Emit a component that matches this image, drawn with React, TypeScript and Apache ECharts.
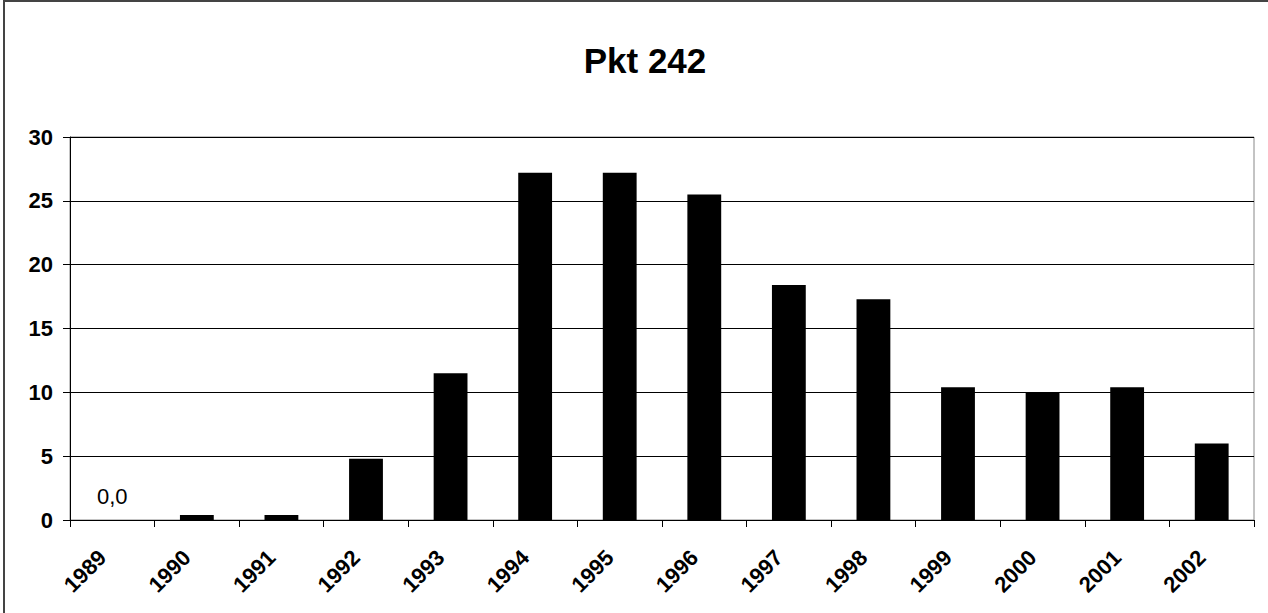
import React, { useEffect, useRef } from "react";
import * as echarts from "echarts";

const title = "Pkt 242";
const years = ["1989", "1990", "1991", "1992", "1993", "1994", "1995", "1996", "1997", "1998", "1999", "2000", "2001", "2002"];
const values = [0, 0.4, 0.4, 4.8, 11.5, 27.2, 27.2, 25.5, 18.4, 17.3, 10.4, 10.0, 10.4, 6.0];
const labelledYears = ["1989"];
const yTicks = [0, 5, 10, 15, 20, 25, 30];

const FONT = 'Arial, "Liberation Sans", sans-serif';

export default function App() {
  const ref = useRef<HTMLDivElement>(null);
  useEffect(() => {
    if (!ref.current) return;
    const chart = echarts.init(ref.current, null, { renderer: "svg" });
    chart.setOption({
      animation: false,
      backgroundColor: "#fff",
      title: {
        text: title,
        left: 640,
        top: 38,
        textAlign: "center",
        textStyle: { fontFamily: FONT, fontWeight: "bold", fontSize: 35, color: "#000" },
      },
      graphic: [
        { type: "line", shape: { x1: 4, y1: 0, x2: 4, y2: 613 }, style: { stroke: "#444", lineWidth: 2 } },
        { type: "line", shape: { x1: 4, y1: 1, x2: 1268, y2: 1 }, style: { stroke: "#444", lineWidth: 2 } },
      ],
      grid: {
        left: 70,
        right: 14,
        top: 137,
        bottom: 93,
        show: true,
        borderColor: "#888",
        borderWidth: 1,
        containLabel: false,
      },
      xAxis: {
        type: "category",
        data: years,
        boundaryGap: true,
        axisLine: { lineStyle: { color: "#000", width: 1 } },
        axisTick: { show: true, length: 7, inside: false, lineStyle: { color: "#000" } },
        axisLabel: {
          rotate: 45,
          margin: 24,
          interval: 0,
          padding: [0, 14, 0, 0],
          fontFamily: FONT,
          fontWeight: "bold",
          fontSize: 22,
          color: "#000",
        },
        splitLine: { show: false },
      },
      yAxis: {
        type: "value",
        min: yTicks[0],
        max: yTicks[yTicks.length - 1],
        interval: 5,
        axisLine: { show: true, lineStyle: { color: "#000", width: 1 } },
        axisTick: { show: true, length: 7, lineStyle: { color: "#000" } },
        axisLabel: {
          margin: 17,
          fontFamily: FONT,
          fontWeight: "bold",
          fontSize: 22,
          color: "#000",
        },
        splitLine: { show: true, lineStyle: { color: "#000", width: 1 } },
      },
      series: [
        {
          type: "bar",
          data: values.map((v, i) =>
            labelledYears.includes(years[i])
              ? {
                  value: v,
                  label: {
                    show: true,
                    position: "top",
                    distance: 13,
                    formatter: (p: any) => Number(p.value).toFixed(1).replace(".", ","),
                    fontFamily: FONT,
                    fontSize: 22,
                    color: "#000",
                  },
                }
              : v
          ),
          barWidth: "40%",
          itemStyle: { color: "#000", borderWidth: 0 },
        },
      ],
    });
    return () => chart.dispose();
  }, []);
  return <div ref={ref} style={{ position: "fixed", left: 0, top: 0, width: 1268, height: 613 }} />;
}
